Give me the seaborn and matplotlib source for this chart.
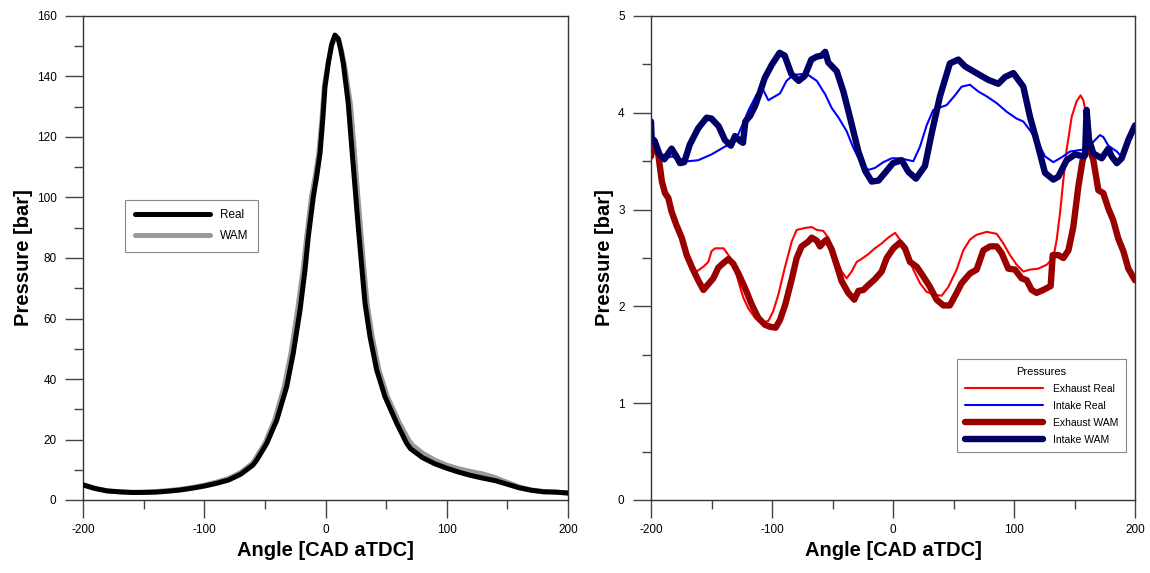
import numpy as np
import pandas as pd
import matplotlib
matplotlib.use("Agg")
import matplotlib.pyplot as plt
from matplotlib.ticker import AutoMinorLocator, MultipleLocator
import seaborn as sns

# ---------------- data: cylinder pressure ----------------
cyl_angle_real = [-200, -190, -180, -170, -160, -150, -140, -130, -120, -110, -100, -90,
                  -80, -70, -60, -56.7, -48.5, -40.2, -32, -26.6, -21, -16.9, -14.2, -10,
                  -7.3, -4.5, -2.3, -0.4, 2.3, 5, 7.8, 10.5, 12.5, 14.7, 18.8, 21.6, 24.3,
                  27, 29.9, 32.6, 36.7, 42.2, 49, 58.7, 67, 70, 80, 90, 100, 110, 120, 130,
                  140, 150, 160, 170, 180, 190, 200]
cyl_p_real = [5.0, 3.8, 3.0, 2.7, 2.5, 2.5, 2.6, 2.9, 3.3, 3.9, 4.6, 5.5,
              6.6, 8.5, 11.5, 13.2, 18.7, 26.4, 37.5, 48.5, 62.8, 76, 87, 100.3,
              106.9, 114.7, 125.6, 136.6, 144.3, 150.5, 153.7, 152.5, 149, 144.3, 131, 116.8, 103.6,
              90.3, 77.1, 65, 54, 43, 34.2, 25.4, 18.7, 17, 14, 12, 10.5, 9.2, 8.1, 7.2,
              6.4, 5.2, 4.0, 3.2, 2.7, 2.6, 2.3]

cyl_angle_wam = [-200, -190, -180, -170, -160, -150, -140, -130, -120, -110, -100, -90,
                 -80, -70, -60, -58, -50, -42, -34, -28.5, -23, -18.5, -15.5, -11.5,
                 -8.5, -5.5, -3, -1, 2, 5, 7.8, 11, 13.5, 16, 20.5, 23.5, 26,
                 28.8, 31.5, 34.3, 38.5, 44, 51, 61, 69, 72, 80, 90, 100, 110, 120, 130,
                 140, 150, 160, 170, 180, 190, 200]
cyl_p_wam = [5.0, 3.8, 3.0, 2.7, 2.5, 2.6, 2.8, 3.1, 3.5, 4.1, 4.9, 5.9,
             7.1, 9.1, 12.2, 13.5, 18.7, 26.4, 37.5, 48.5, 62.8, 76, 87, 100.3,
             106.9, 114.7, 125.6, 136.6, 144.3, 150.0, 153.0, 152.0, 148, 143, 131, 116.8, 103.6,
             90.3, 77.1, 65, 54, 43, 34.2, 25.4, 19.5, 18, 15.5, 13.2, 11.5, 10.3, 9.4, 8.6,
             7.4, 5.8, 4.3, 3.3, 2.8, 2.6, 2.3]

# ---------------- data: manifold pressures ----------------
exh_real_angle = [-200, -198, -194, -191, -188.4, -185.7, -183, -179, -174.6, -170.5, -167.8,
                  -162.3, -156.7, -152.6, -150, -147, -140, -136, -132, -127.8, -123.7, -119.6,
                  -114, -108.5, -103, -99, -94.8, -89.4, -83.7, -79.6, -72.7, -67.2, -63, -57.6,
                  -53.5, -48, -42.4, -38.3, -34.2, -30, -26, -20.4, -15, -9.4, -4, 1.7, 5.8,
                  11.3, 16.8, 22.3, 27.8, 34.7, 40.2, 45.7, 52.6, 58.1, 63.6, 69.1, 77.4, 85.7,
                  91.2, 96.7, 102.2, 107.7, 113.2, 120, 127, 132.5, 135.3, 138, 140.8, 143.5,
                  147.7, 151.8, 155, 157.3, 160, 162.8, 165.6, 169.7, 173.8, 178, 182, 186.2,
                  190.4, 194.5, 200]
exh_real_p = [3.60, 3.68, 3.55, 3.28, 3.16, 3.11, 2.97, 2.83, 2.70, 2.52, 2.43,
              2.36, 2.41, 2.46, 2.57, 2.60, 2.60, 2.53, 2.45, 2.26, 2.09, 1.98,
              1.88, 1.83, 1.85, 1.95, 2.12, 2.40, 2.67, 2.79, 2.81, 2.82, 2.79, 2.78,
              2.71, 2.53, 2.36, 2.29, 2.36, 2.46, 2.49, 2.54, 2.60, 2.65, 2.71, 2.76, 2.69,
              2.55, 2.38, 2.24, 2.15, 2.12, 2.11, 2.20, 2.38, 2.58, 2.69, 2.74, 2.77, 2.75,
              2.65, 2.53, 2.43, 2.36, 2.38, 2.39, 2.43, 2.50, 2.69, 2.96, 3.31, 3.62,
              3.96, 4.12, 4.18, 4.13, 3.96, 3.72, 3.51, 3.20, 3.17, 3.01, 2.89, 2.70,
              2.57, 2.39, 2.27]

int_real_angle = [-200, -193, -189, -183, -179, -174.6, -169, -161, -150, -139, -130.6, -125,
                  -119.6, -112.7, -107, -103, -97.5, -93.4, -88, -82.4, -75.5, -70, -63, -56,
                  -50.7, -45, -38.3, -32.8, -27.3, -20.4, -15, -8, -1, 5.8, 16.8, 22.3, 27.8,
                  33.3, 44.4, 51.2, 56.7, 63.6, 70.5, 77.4, 85.7, 94, 102.2, 107.7, 113.2, 120,
                  125.6, 132.5, 139.4, 146.3, 157.3, 164, 171, 173.8, 178, 185, 188.5]
int_real_p = [3.72, 3.57, 3.52, 3.55, 3.53, 3.52, 3.50, 3.51, 3.57, 3.65, 3.70, 3.86,
              4.02, 4.19, 4.23, 4.13, 4.17, 4.20, 4.33, 4.39, 4.40, 4.39, 4.33, 4.19,
              4.05, 3.95, 3.81, 3.64, 3.50, 3.41, 3.43, 3.49, 3.53, 3.53, 3.50, 3.65, 3.87,
              4.03, 4.08, 4.18, 4.27, 4.29, 4.22, 4.17, 4.10, 4.01, 3.94, 3.91, 3.82, 3.69,
              3.55, 3.49, 3.54, 3.60, 3.62, 3.68, 3.77, 3.75, 3.66, 3.60, 3.55]

exh_wam_angle = [-200, -198, -194, -191, -188.4, -185.7, -183, -179, -174.6, -170.5, -166,
                 -161.4, -156.7, -152.6, -148.5, -144.4, -140, -136, -132, -127.8, -122.3,
                 -116.8, -111.3, -105.8, -101.7, -97, -93.4, -89, -83.7, -79.6, -75.5, -70,
                 -67.2, -63, -60.3, -57.6, -54.8, -50.7, -46.6, -42.4, -37, -32, -28.6, -24.5,
                 -20.4, -15, -9.4, -5.2, 0.3, 5.8, 9.9, 14, 19.6, 25, 30.6, 36, 41.6, 47, 52.6,
                 56.7, 63.6, 69.1, 74.7, 80.2, 85.7, 89.8, 95.3, 100.8, 106.3, 110.5, 114.6,
                 118.7, 124.2, 130.3, 132, 136.6, 140.8, 145, 149, 153.2, 156.7, 161.4, 165.6,
                 169.7, 173.8, 178, 182, 186.2, 190.4, 194.5, 200]
exh_wam_p = [3.55, 3.71, 3.57, 3.29, 3.17, 3.12, 2.98, 2.84, 2.71, 2.53, 2.40,
             2.28, 2.17, 2.23, 2.29, 2.40, 2.45, 2.49, 2.44, 2.34, 2.19,
             2.02, 1.88, 1.81, 1.79, 1.78, 1.86, 2.02, 2.28, 2.50, 2.62, 2.67,
             2.71, 2.68, 2.62, 2.66, 2.69, 2.59, 2.43, 2.26, 2.14, 2.07, 2.16, 2.17,
             2.22, 2.28, 2.36, 2.50, 2.60, 2.66, 2.60, 2.46, 2.41, 2.31, 2.20, 2.07, 2.01, 2.01, 2.14,
             2.24, 2.34, 2.38, 2.58, 2.62, 2.62, 2.55, 2.39, 2.38, 2.29, 2.27, 2.17,
             2.14, 2.17, 2.21, 2.53, 2.53, 2.50, 2.58, 2.82, 3.24, 3.51, 3.67, 3.51,
             3.20, 3.17, 3.01, 2.89, 2.70, 2.57, 2.39, 2.27]

int_wam_angle = [-200, -199.5, -197, -193, -189, -183, -179, -176, -172.5, -168, -161, -154,
                 -150, -144, -139, -134, -130.6, -126.5, -124, -122, -118, -114, -110, -106,
                 -100, -93.7, -89.5, -84, -78, -73, -67.5, -63, -59, -56, -53.5, -46.5, -41,
                 -35.5, -28.6, -23, -17.6, -12, -6.6, 0, 7.2, 12.7, 19, 26.4, 32, 38.8, 47, 54,
                 59.5, 69, 78.8, 87, 92.6, 99.5, 107.7, 113.2, 120, 125.6, 132.5, 136.6, 143.5,
                 150.4, 157.3, 158.7, 160, 162, 165.6, 172.5, 178, 180.7, 185, 189, 194.5, 200]
int_wam_p = [3.91, 3.74, 3.71, 3.57, 3.52, 3.63, 3.55, 3.48, 3.49, 3.67, 3.84, 3.95,
             3.94, 3.86, 3.72, 3.66, 3.76, 3.71, 3.69, 3.91, 3.97, 4.07, 4.21, 4.36,
             4.50, 4.62, 4.59, 4.40, 4.33, 4.38, 4.55, 4.58, 4.59, 4.63, 4.52, 4.43, 4.22,
             3.95, 3.60, 3.40, 3.29, 3.30, 3.38, 3.48, 3.51, 3.39, 3.32, 3.45, 3.79, 4.17, 4.51, 4.55,
             4.48, 4.41, 4.34, 4.30, 4.37, 4.41, 4.27, 3.96, 3.65, 3.38, 3.31, 3.34, 3.51,
             3.57, 3.55, 3.56, 4.03, 3.72, 3.58, 3.53, 3.63, 3.55, 3.48, 3.53, 3.72, 3.87]

# ---------------- styling ----------------
sns.set_theme(style="white")
plt.rcParams['font.family'] = ['Liberation Sans', 'DejaVu Sans']
plt.rcParams['axes.unicode_minus'] = False
plt.rcParams['text.color'] = 'black'
plt.rcParams['axes.labelcolor'] = 'black'
plt.rcParams['axes.edgecolor'] = '#333333'
plt.rcParams['axes.linewidth'] = 1.0

fig = plt.figure(figsize=(11.5, 5.73), dpi=100)
ax1 = fig.add_axes([83/1150, 1-500/573, 485/1150, 484/573])
ax2 = fig.add_axes([651/1150, 1-500/573, 484/1150, 484/573])

df_real = pd.DataFrame({"angle": cyl_angle_real, "p": cyl_p_real})
df_wam = pd.DataFrame({"angle": cyl_angle_wam, "p": cyl_p_wam})

sns.lineplot(data=df_real, x="angle", y="p", ax=ax1, color="black", lw=3.6,
             sort=False, estimator=None, label="Real", zorder=3)
sns.lineplot(data=df_wam, x="angle", y="p", ax=ax1, color="#999999", lw=3.6,
             sort=False, estimator=None, label="WAM", zorder=2)

series = [
    (exh_real_angle, exh_real_p, "#ff0000", 1.5, "Exhaust Real"),
    (int_real_angle, int_real_p, "#0000ff", 1.5, "Intake Real"),
    (exh_wam_angle, exh_wam_p, "#990000", 4.6, "Exhaust WAM"),
    (int_wam_angle, int_wam_p, "#000066", 4.6, "Intake WAM"),
]
for a, p, c, lw, lab in series:
    d = pd.DataFrame({"angle": a, "p": p})
    sns.lineplot(data=d, x="angle", y="p", ax=ax2, color=c, lw=lw, sort=False,
                 estimator=None, label=lab)

for ax, ymax, ystep in [(ax1, 160, 20), (ax2, 5, 1)]:
    ax.set_xlim(-200, 200)
    ax.set_ylim(0, ymax)
    ax.xaxis.set_major_locator(MultipleLocator(100))
    ax.xaxis.set_minor_locator(AutoMinorLocator(2))
    ax.yaxis.set_major_locator(MultipleLocator(ystep))
    ax.yaxis.set_minor_locator(AutoMinorLocator(2))
    ax.tick_params(which="major", direction="out", length=13, width=1.0, color="#444444",
                   labelsize=8.5, labelcolor="black", bottom=True, left=True)
    ax.tick_params(axis="y", which="major", pad=6)
    ax.tick_params(axis="x", which="major", pad=4)
    ax.tick_params(which="minor", direction="out", length=6.5, width=1.0, color="#444444",
                   bottom=True, left=True)
    ax.set_xlabel("Angle [CAD aTDC]", fontsize=14.5, fontweight="bold", labelpad=4)
    ax.set_ylabel("Pressure [bar]", fontsize=14.5, fontweight="bold", labelpad=3)
    for s in ax.spines.values():
        s.set_visible(True)
        s.set_color("#333333")
    ax.grid(False)

leg1 = ax1.legend(loc="upper left", bbox_to_anchor=(0.075, 0.632), fontsize=8.5,
                  handlelength=6.4, frameon=True, fancybox=False, framealpha=1,
                  edgecolor="#888888", borderpad=0.8, labelspacing=0.75, handletextpad=0.8)
leg1.get_frame().set_linewidth(0.8)

leg2 = ax2.legend(loc="lower right", bbox_to_anchor=(0.992, 0.088), fontsize=7.5,
                  title="Pressures", title_fontsize=8, handlelength=7.5, frameon=True,
                  fancybox=False, framealpha=1, edgecolor="#888888", borderpad=0.7,
                  labelspacing=0.68, handletextpad=1.0)
leg2.get_frame().set_linewidth(0.8)

fig.savefig("out.png", dpi=100)
